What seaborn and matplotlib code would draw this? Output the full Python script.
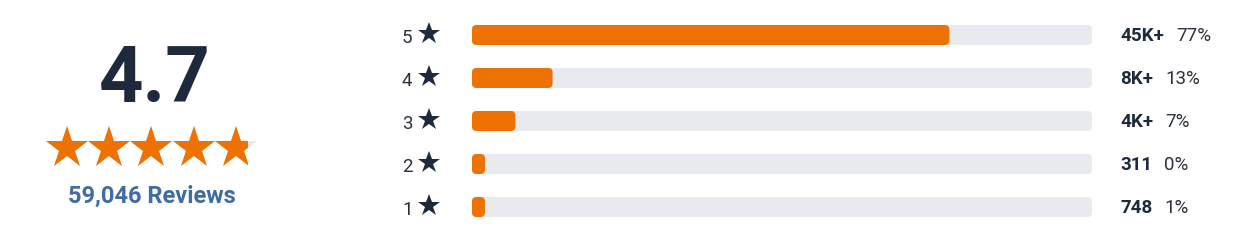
import numpy as np
import pandas as pd
import matplotlib
matplotlib.use("Agg")
import matplotlib.pyplot as plt
import matplotlib.transforms as mtransforms
from matplotlib.patches import FancyBboxPatch, Rectangle
import seaborn as sns

# ---- data ----
rating = 4.7
total_reviews = "59,046"
star_labels = ["5", "4", "3", "2", "1"]
percents = [77, 13, 7, 0, 1]
count_labels = ["45K+", "8K+", "4K+", "311", "748"]
pct_labels = ["77%", "13%", "7%", "0%", "1%"]

ORANGE = "#ed7203"
TRACK = "#e9eaee"
DARK = "#1e2a3b"
TXT = "#2b303a"
BLUE = "#3f6ca4"

sns.set_theme(style="white")
plt.rcParams["font.family"] = ["Roboto", "DejaVu Sans"]

W, H = 1238, 251
fig = plt.figure(figsize=(W / 100, H / 100), dpi=100)

# overlay axes in pixel coordinates for the summary panel
ax0 = fig.add_axes([0, 0, 1, 1], zorder=0)
ax0.set_xlim(0, W)
ax0.set_ylim(H, 0)
ax0.axis("off")

# main bar axes
x0, x1 = 472, 1092
top, bot = 14.5, 229.5
ax = fig.add_axes([x0 / W, (H - bot) / H, (x1 - x0) / W, (bot - top) / H], zorder=1)
ax.patch.set_alpha(0)

df = pd.DataFrame({"stars": star_labels, "pct": percents})
df["track"] = 100.0
min_w = 2.1
df["shown"] = np.maximum(df["pct"], min_w)

bar_h = 0.465
sns.barplot(data=df, x="track", y="stars", order=star_labels, orient="h",
            color=TRACK, width=bar_h, ax=ax, saturation=1)
sns.barplot(data=df, x="shown", y="stars", order=star_labels, orient="h",
            color=ORANGE, width=bar_h, ax=ax, saturation=1)

ax.set_xlim(0, 100)
ax.set_ylim(len(star_labels) - 0.5, -0.5)

# replace rectangles with rounded bars
px_per_x = (x1 - x0) / 100.0
px_per_y = (bot - top) / len(star_labels)
aspect = px_per_x / px_per_y
r = 4.5 / px_per_x
patches = list(ax.patches)
for p in patches:
    bx, by = p.get_x(), p.get_y()
    bw, bh = p.get_width(), p.get_height()
    fc = p.get_facecolor()
    z = p.get_zorder()
    p.remove()
    rp = FancyBboxPatch((bx, by), bw, bh,
                        boxstyle=f"round,pad=0,rounding_size={r}",
                        mutation_aspect=aspect,
                        facecolor=fc, edgecolor="none", zorder=z)
    ax.add_patch(rp)

ax.set_xlabel("")
ax.set_ylabel("")
ax.set_xticks([])
ax.set_yticks([])
for s in ax.spines.values():
    s.set_visible(False)

# row labels and right-hand texts
blend = mtransforms.blended_transform_factory(ax0.transData, ax.transData)
t_left = mtransforms.offset_copy(blend, fig=fig, y=-7, units="dots")
t_right = mtransforms.offset_copy(blend, fig=fig, y=-5, units="dots")
t_star = mtransforms.offset_copy(blend, fig=fig, y=1.5, units="dots")
fig.canvas.draw()
renderer = fig.canvas.get_renderer()
for i, lab in enumerate(star_labels):
    ax.text(412.5, i, lab, transform=t_left, ha="right", va="baseline",
            fontsize=13.5, color=TXT, clip_on=False)
    ax.plot([429], [i], marker="*", markersize=16.8, color=DARK,
            markeredgewidth=0, transform=t_star, clip_on=False)
    ct = ax.text(1120.5, i, count_labels[i], transform=t_right, ha="left",
                 va="baseline", fontsize=13.5, fontweight="bold", color=DARK,
                 clip_on=False)
    ext = ct.get_window_extent(renderer=renderer)
    ax.text(ext.x1 + 11.5, i, pct_labels[i],
            transform=mtransforms.offset_copy(
                mtransforms.blended_transform_factory(mtransforms.IdentityTransform(), ax.transData),
                fig=fig, y=-5, units="dots"),
            ha="left", va="baseline", fontsize=13.5, color=TXT, clip_on=False)

# summary panel
ax0.text(155, 102, f"{rating}", ha="center", va="baseline", fontsize=56,
         fontweight="bold", color=DARK)
star_cx = 66.5 + 42.4 * np.arange(5)
star_cy = 149
ms = 31.7
ax0.plot(star_cx, [star_cy] * 5, linestyle="none", marker="*", markersize=ms,
         color=TRACK, markeredgewidth=0)
full = int(np.floor(rating))
ax0.plot(star_cx[:full], [star_cy] * full, linestyle="none", marker="*",
         markersize=ms, color=ORANGE, markeredgewidth=0)
frac = rating - full
half_w = 21.2
left = star_cx[full] - half_w
(part,) = ax0.plot([star_cx[full]], [star_cy], linestyle="none", marker="*",
                   markersize=ms, color=ORANGE, markeredgewidth=0)
clip = Rectangle((left, 0), 2 * half_w * frac + 2, H, transform=ax0.transData)
part.set_clip_path(clip)
ax0.text(151.5, 203, f"{total_reviews} Reviews", ha="center", va="baseline",
         fontsize=17, fontweight="bold", color=BLUE)

fig.savefig("out.png", dpi=100)
